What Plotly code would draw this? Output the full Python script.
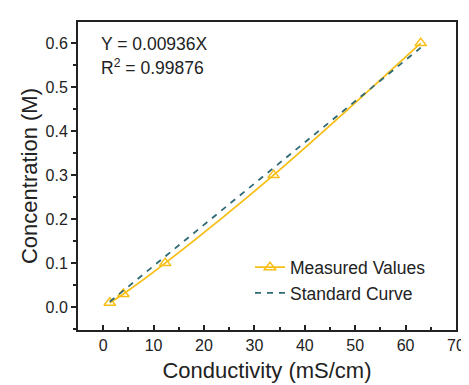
import plotly.graph_objects as go

# Data
conductivity = [1.3, 4.0, 12.3, 33.8, 63.0]
concentration = [0.01, 0.03, 0.10, 0.30, 0.60]
slope = 0.00936
fit_x = [1.3, 63.0]
fit_y = [slope * v for v in fit_x]

x_ticks = [0, 10, 20, 30, 40, 50, 60, 70]
y_ticks = [0.0, 0.1, 0.2, 0.3, 0.4, 0.5, 0.6]
y_tick_labels = ["0.0", "0.1", "0.2", "0.3", "0.4", "0.5", "0.6"]

gold = "#F7BE16"
teal = "#2F6A74"

fig = go.Figure()
fig.add_trace(go.Scatter(
    x=conductivity, y=concentration, mode="lines+markers",
    name="Measured Values", line=dict(color=gold, width=1.8, shape="spline"),
    marker=dict(symbol="triangle-up-open", size=10, color=gold, line=dict(width=1.5)),
))
fig.add_trace(go.Scatter(
    x=fit_x, y=fit_y, mode="lines", name="Standard Curve",
    line=dict(color=teal, width=1.8, dash="6px,6px"),
))

font = "Liberation Sans, Arial, sans-serif"
fig.update_layout(
    width=469, height=385,
    margin=dict(l=70, r=13, t=13, b=63),
    paper_bgcolor="white", plot_bgcolor="white",
    font=dict(family=font, size=16, color="#222"),
    showlegend=True,
    legend=dict(x=0.455, y=0.262, xanchor="left", yanchor="top",
                bgcolor="rgba(0,0,0,0)", font=dict(size=17.5, color="#222"),
                tracegroupgap=0, itemwidth=30),
    xaxis=dict(
        range=[-5, 70], tickvals=x_ticks, ticks="inside", ticklen=5, tickwidth=1.5,
        tickcolor="#222", showline=True, linecolor="#222", linewidth=2, mirror=True,
        showgrid=False, zeroline=False,
        minor=dict(dtick=5, tick0=0, ticks="inside", ticklen=3, tickcolor="#222", showgrid=False),
        title=dict(text="Conductivity (mS/cm)", font=dict(size=22), standoff=9),
        tickfont=dict(size=16),
    ),
    yaxis=dict(
        range=[-0.052, 0.648], tickvals=y_ticks, ticktext=y_tick_labels,
        ticks="outside", ticklen=5, tickwidth=1.5,
        tickcolor="#222", showline=True, linecolor="#222", linewidth=2, mirror=True,
        showgrid=False, zeroline=False,
        minor=dict(dtick=0.05, tick0=0, ticks="outside", ticklen=3, tickcolor="#222", showgrid=False),
        title=dict(text="Concentration (M)", font=dict(size=22), standoff=2),
        tickfont=dict(size=16),
    ),
)
fig.add_annotation(x=0.055, y=0.93, xref="paper", yref="paper", xanchor="left", yanchor="middle",
                   text="Y = 0.00936X", showarrow=False, font=dict(size=17.5, color="#222"))
fig.add_annotation(x=0.055, y=0.855, xref="paper", yref="paper", xanchor="left", yanchor="middle",
                   text="R<sup>2</sup> = 0.99876", showarrow=False, font=dict(size=17.5, color="#222"))

fig.write_html("out.html")
